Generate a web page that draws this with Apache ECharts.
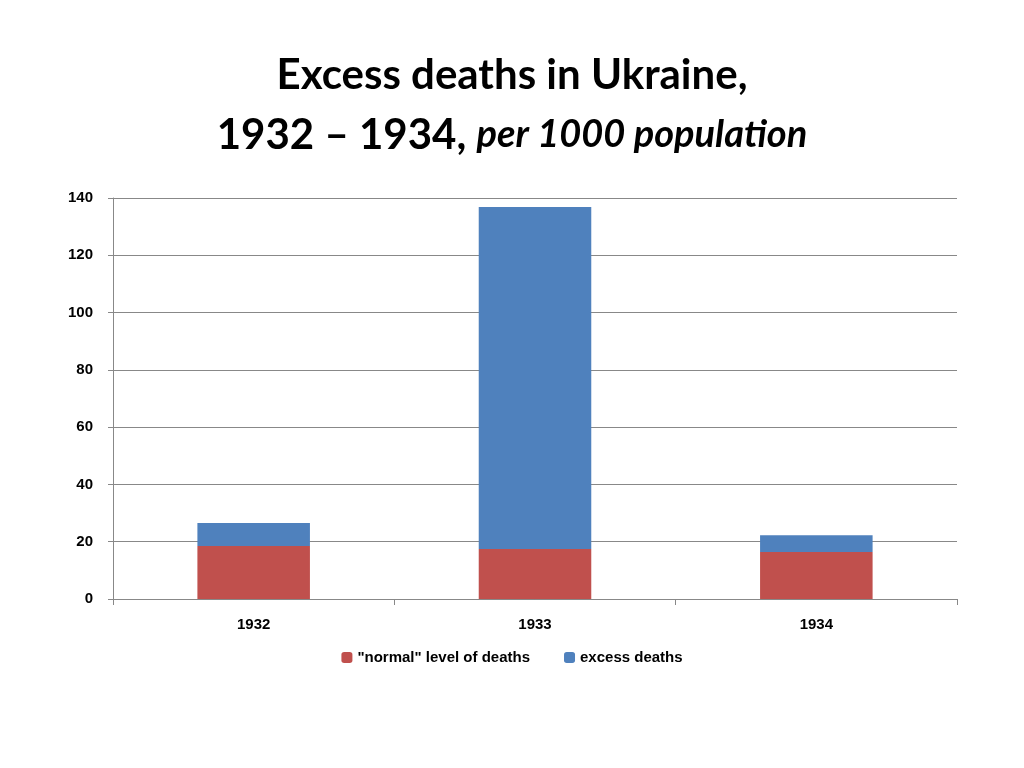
<!DOCTYPE html>
<html lang="en">
  <head>
    <meta charset="UTF-8" />
    <title>Excess deaths in Ukraine</title>
    <script src="https://cdn.jsdelivr.net/npm/echarts@6/dist/echarts.min.js"></script>
  </head>
  <body style="margin: 0">
    <div id="chart" style="width: 1024px; height: 768px"></div>
    <script type="text/javascript">
      // data
      const years = ["1932", "1933", "1934"];
      const normalDeaths = [18.5, 17.5, 16.4];
      const excessDeaths = [8.0, 119.4, 5.9];

      const chart = echarts.init(document.getElementById("chart"));

      let options = {
        title: {
          text: "{a|Excess deaths in Ukraine,}\n{a|1932 – 1934, }{b|per 1000 population}",
          left: "center",
          top: 40,
          textStyle: {
            rich: {
              a: { fontFamily: "Lato", fontWeight: "bold", fontSize: 42, color: "#000", lineHeight: 60 },
              b: { fontFamily: "Lato", fontWeight: "bold", fontStyle: "italic", fontSize: 38, color: "#000", lineHeight: 60 },
            },
          },
        },
        legend: {
          bottom: 98,
          left: "center",
          itemWidth: 11,
          itemHeight: 11,
          itemGap: 34,
          textStyle: { fontFamily: "Liberation Sans", fontWeight: "bold", fontSize: 15, color: "#000" },
          data: ['"normal" level of deaths', "excess deaths"],
        },
        grid: { left: 113, right: 67, top: 198, bottom: 169, containLabel: false },
        xAxis: {
          type: "category",
          data: years,
          axisLine: { lineStyle: { color: "#888" } },
          axisTick: { show: true, length: 6, lineStyle: { color: "#888" } },
          axisLabel: { fontFamily: "Liberation Sans", fontWeight: "bold", fontSize: 15, color: "#000", margin: 18 },
        },
        yAxis: {
          type: "value",
          min: 0,
          max: 140,
          interval: 20,
          axisLine: { show: true, lineStyle: { color: "#888" } },
          axisTick: { show: true, length: 5, lineStyle: { color: "#888" } },
          splitLine: { lineStyle: { color: "#888" } },
          axisLabel: { fontFamily: "Liberation Sans", fontWeight: "bold", fontSize: 15, color: "#000", margin: 20 },
        },
        series: [
          {
            name: '"normal" level of deaths',
            type: "bar",
            stack: "d",
            barWidth: "40%",
            itemStyle: { color: "#c0504d" },
            data: normalDeaths,
          },
          {
            name: "excess deaths",
            type: "bar",
            stack: "d",
            itemStyle: { color: "#4f81bd" },
            data: excessDeaths,
          },
        ],
      };

      chart.setOption(options);
    </script>
  </body>
</html>
